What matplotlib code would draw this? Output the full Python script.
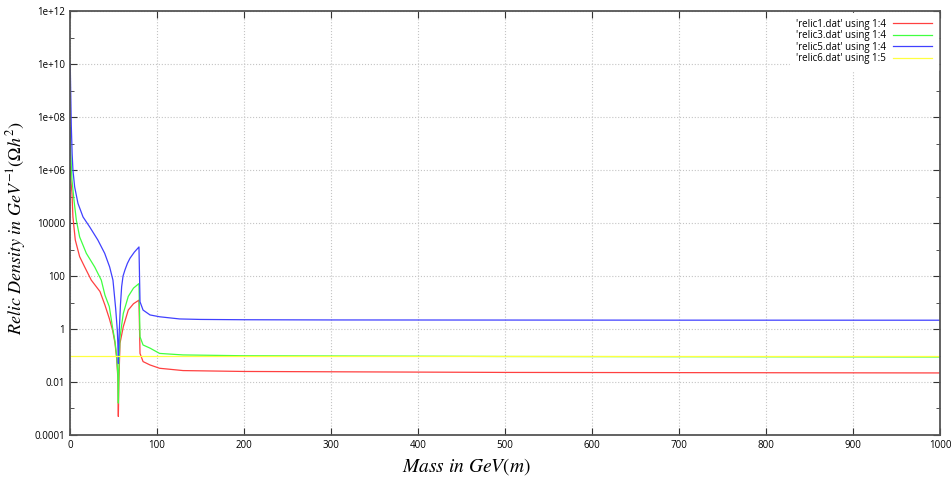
import matplotlib
matplotlib.use('Agg')
import matplotlib.pyplot as plt
import numpy as np
from matplotlib.ticker import FixedLocator, FixedFormatter

plt.rcParams['font.family'] = ['Open Sans', 'DejaVu Sans']
plt.rcParams['mathtext.fontset'] = 'stix'

# masses (GeV) and relic densities
mass_blue = [0.3, 0.8, 1.5, 2.5, 3.4, 5.4, 9.2, 15, 22.6, 32, 39.9, 45.6, 49.4, 51,
             52.5, 53.6, 54.4, 55, 55.6, 56.2, 56.7, 58, 59.4, 61, 63.2, 66, 69, 74,
             79.3, 80.5, 84, 92, 103, 126, 150, 200, 300, 500, 700, 1000]
dens_blue = [1e10, 1e9, 5e7, 4e6, 1e6, 2.3e5, 5.5e4, 1.7e4, 7.2e3, 2.3e3, 720, 220, 70, 20,
             6, 2, 0.9, 0.3, 0.05, 0.3, 0.9, 8, 40, 100, 170, 300, 470, 800,
             1250, 10.7, 5.2, 3.4, 2.9, 2.4, 2.3, 2.24, 2.2, 2.18, 2.16, 2.15]

mass_green = [0.3, 0.8, 2.3, 4.6, 7.3, 11.1, 18.8, 28.4, 36, 40.2, 45.2, 49, 51.7, 53.6, 55,
              55.6, 56.2, 57.5, 61.3, 67, 73, 79.3, 80.5, 84, 92, 103, 130, 200, 500, 1000]
dens_green = [4e7, 5e6, 4.2e5, 7.4e4, 1.3e4, 3e3, 720, 220, 70, 19, 7, 1.1, 0.35, 0.1, 0.02,
              0.0016, 0.03, 0.5, 3.9, 17, 35, 52, 0.51, 0.25, 0.19, 0.12, 0.105, 0.098, 0.092, 0.088]

mass_red = [0.3, 1.1, 2.3, 3.4, 6.1, 11.1, 16.9, 24.5, 34.5, 40.2, 45.2, 49, 51.7, 53.6, 55,
            55.6, 56.2, 57.5, 61.3, 67, 73, 79.3, 80.5, 84, 92, 103, 130, 200, 500, 1000]
dens_red = [1.3e6, 4e5, 1.3e5, 1.7e4, 2.3e3, 540, 220, 70, 26, 8, 2.5, 0.9, 0.3, 0.08, 0.015,
            0.0005, 0.01, 0.29, 1.23, 5.2, 9, 12.3, 0.12, 0.059, 0.044, 0.033, 0.027, 0.025, 0.023, 0.022]

mass_yellow = [0, 1000]
dens_yellow = [0.098, 0.098]

labels = ["'relic1.dat' using 1:4", "'relic3.dat' using 1:4",
          "'relic5.dat' using 1:4", "'relic6.dat' using 1:5"]

fig = plt.figure(figsize=(9.52, 4.83), dpi=100)
ax = fig.add_axes([0.0735, 0.0994, 0.9139, 0.8776])

ax.plot(mass_red, dens_red, color='#ff4040', lw=0.9, label=labels[0])
ax.plot(mass_green, dens_green, color='#40ff40', lw=0.9, label=labels[1])
ax.plot(mass_blue, dens_blue, color='#4040ff', lw=0.9, label=labels[2])
ax.plot(mass_yellow, dens_yellow, color='#ffff40', lw=0.9, label=labels[3])

ax.set_yscale('log')
ax.set_xlim(0, 1000)
ax.set_ylim(1e-4, 1e12)

ytick_vals = [1e-4, 1e-2, 1, 1e2, 1e4, 1e6, 1e8, 1e10, 1e12]
ytick_lbls = ['0.0001', '0.01', '1', '100', '10000', '1e+06', '1e+08', '1e+10', '1e+12']
ax.yaxis.set_major_locator(FixedLocator(ytick_vals))
ax.yaxis.set_major_formatter(FixedFormatter(ytick_lbls))
ax.yaxis.set_minor_locator(FixedLocator([1e-3, 1e-1, 1e1, 1e3, 1e5, 1e7, 1e9, 1e11]))
ax.yaxis.set_minor_formatter(FixedFormatter([''] * 8))
ax.set_xticks(np.arange(0, 1001, 100))

ax.tick_params(which='both', direction='in', top=True, right=True,
               labelsize=7, colors='#333333', labelcolor='black')
ax.tick_params(which='major', length=5)
ax.tick_params(which='minor', length=3)
ax.grid(True, which='major', linestyle=':', color='#c4c4c4', lw=0.8)
for s in ax.spines.values():
    s.set_color('#555555')
    s.set_linewidth(1.3)

ax.set_xlabel(r'$Mass\ in\ GeV(m)$', fontsize=14)
ax.set_ylabel(r'$Relic\ Density\ in\ GeV^{-1}(\Omega h^2)$', fontsize=13)
ax.xaxis.set_label_coords(0.456, -0.05)
ax.yaxis.set_label_coords(-0.048, 0.488)

leg = ax.legend(loc='upper right', fontsize=7, markerfirst=False, frameon=True,
                framealpha=1, edgecolor='white', fancybox=False, handlelength=4,
                labelspacing=0.05, borderpad=0.6, borderaxespad=0.2)
for t in leg.get_texts():
    t.set_ha('right')
leg._legend_box.align = 'right'

fig.savefig('out.png', dpi=100)
